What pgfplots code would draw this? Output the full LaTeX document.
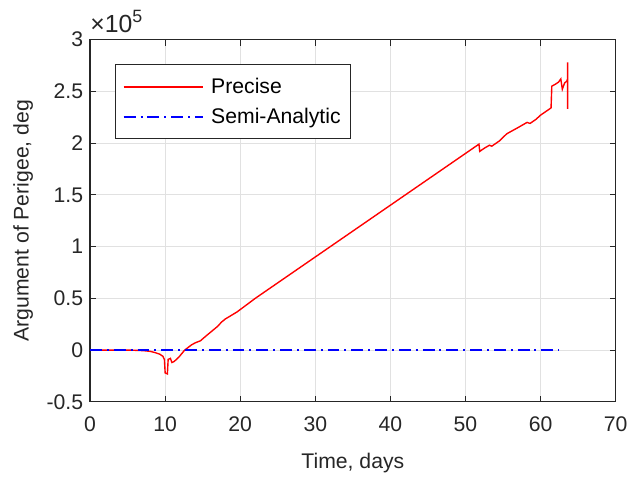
\documentclass[border=0pt]{standalone}
\usepackage{pgfplots}
\pgfplotsset{compat=1.18}
\usepackage{fontspec}
\setmainfont{Liberation Sans}
\definecolor{axgray}{RGB}{38,38,38}
\definecolor{gridgray}{RGB}{225,225,225}
\definecolor{pred}{RGB}{255,0,0}
\definecolor{pblue}{RGB}{0,0,255}
\begin{document}
\begin{tikzpicture}[font=\fontsize{10.7}{12.5}\selectfont]
\begin{axis}[
  name=main,
  scale only axis,
  width=265.5pt, height=183pt,
  xmin=0, xmax=70, ymin=-0.5, ymax=3,
  xtick={0,10,...,70},
  ytick={-0.5,0,0.5,1,1.5,2,2.5,3},
  yticklabels={-0.5,0,0.5,1,1.5,2,2.5,3},
  /pgf/number format/assume math mode=true,
  grid=major,
  major grid style={gridgray, line width=0.5pt},
  axis line style={axgray, line width=0.6pt},
  tick style={axgray, line width=0.5pt},
  major tick length=3pt,
  tick align=inside,
  ticklabel style={text=axgray},
  xticklabel style={yshift=-4pt},
  xlabel={Time, days},
  ylabel={Argument of Perigee, deg},
  label style={text=axgray},
  xlabel style={yshift=-4pt},
]
\addplot[color=pred, line width=0.7pt] coordinates {
(0,0) (5,0) (6,-0.002) (7,-0.005) (7.5,-0.008) (8,-0.012) (8.7,-0.025) (9.3,-0.04) (9.7,-0.06) (9.9,-0.09)
(10.0,-0.22) (10.3,-0.23) (10.4,-0.09) (10.7,-0.08) (10.9,-0.12) (11.2,-0.11) (11.8,-0.07) (12.6,0.0)
(13.5,0.05) (14,0.07) (14.7,0.09) (15.5,0.14) (16.5,0.20) (17,0.23) (17.5,0.27) (18,0.30) (19.6,0.37)
(22,0.50) (25,0.65) (28,0.80) (30,0.90) (33,1.05) (35,1.15) (38,1.30) (40,1.40) (42,1.50) (45,1.65) (48,1.80)
(50,1.90) (51.8,1.99) (51.9,1.92) (52.5,1.95) (53.2,1.98) (53.5,1.97) (54.5,2.02) (55.5,2.09) (57,2.15)
(58.2,2.20) (58.6,2.19) (59.4,2.23) (60,2.27) (61.4,2.34) (61.5,2.55) (62,2.57) (62.4,2.59) (62.7,2.62)
(62.9,2.52) (63.2,2.58) (63.5,2.60) (63.6,2.62) (63.6,2.78) (63.6,2.33)
};
\addplot[color=pblue, line width=0.7pt, dash pattern=on 6pt off 2.5pt on 1pt off 2.5pt] coordinates {
(0,0) (10,0) (20,0) (30,0) (40,0) (50,0) (62.4,0)
};
\end{axis}
% legend box (drawn after the axis)
\draw[axgray, line width=0.5pt, fill=white] ([shift={(13pt,-12.5pt)}]main.north west) rectangle ([shift={(131.5pt,-50pt)}]main.north west);
\draw[pred, line width=0.7pt] ([shift={(17pt,-24pt)}]main.north west) -- ([shift={(57pt,-24pt)}]main.north west);
\draw[pblue, line width=0.7pt, dash pattern=on 6pt off 2.5pt on 1pt off 2.5pt] ([shift={(17pt,-39pt)}]main.north west) -- ([shift={(57pt,-39pt)}]main.north west);
\node[anchor=west, inner sep=0pt, text height=1.5ex, text depth=0.25ex] at ([shift={(61pt,-24pt)}]main.north west) {Precise};
\node[anchor=west, inner sep=0pt, text height=1.5ex, text depth=0.25ex] at ([shift={(61pt,-39pt)}]main.north west) {Semi-Analytic};
\node[anchor=base west, text=axgray, inner sep=0pt, font=\fontsize{12.5}{14}\selectfont] at ([yshift=3.5pt]main.north west) {×10\raisebox{0.75ex}{\fontsize{9}{10}\selectfont 5}};
\path (main.south west) ++(-45.5pt,-36.5pt) (main.south west) ++(271.5pt,203pt);
\end{tikzpicture}
\end{document}
